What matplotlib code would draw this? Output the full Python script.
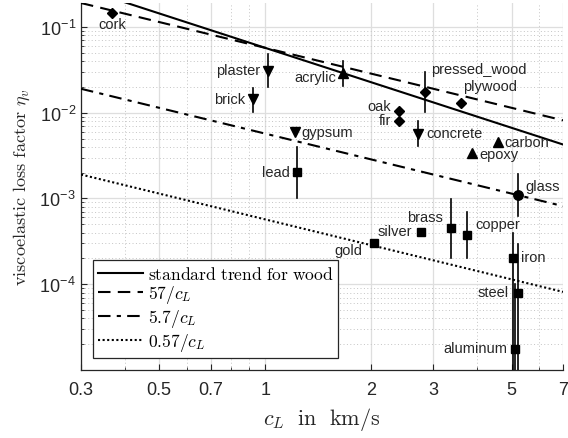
import numpy as np
import matplotlib
matplotlib.use("Agg")
import matplotlib.pyplot as plt
from matplotlib.ticker import FixedLocator, NullFormatter

plt.rcParams['font.family'] = ['Liberation Sans', 'DejaVu Sans']
plt.rcParams['mathtext.fontset'] = 'cm'

# ---------------- data ----------------
materials = ["cork", "plaster", "brick", "gypsum", "lead", "acrylic", "pressed_wood",
             "plywood", "oak", "fir", "concrete", "carbon", "epoxy", "glass", "brass",
             "copper", "silver", "gold", "iron", "steel", "aluminum"]
c_L = [0.367, 1.02, 0.924, 1.217, 1.233, 1.665, 2.85,
       3.60, 2.40, 2.40, 2.72, 4.59, 3.87, 5.20, 3.36,
       3.75, 2.77, 2.04, 5.06, 5.20, 5.13]
eta = [0.146, 0.0307, 0.01445, 0.00597, 0.00204, 0.0291, 0.01746,
       0.0130, 0.01047, 0.00801, 0.00565, 0.00456, 0.0034, 0.0011, 0.000453,
       0.000375, 0.000406, 0.000303, 0.000202, 7.9e-5, 1.76e-5]
eta_low = [None, 0.0200, 0.0102, None, 0.00101, 0.0205, 0.0102,
           None, None, None, 0.00409, None, None, 0.000625, 0.000202,
           0.000202, None, None, 5e-6, 5e-6, 5e-6]
eta_high = [None, 0.0484, 0.0195, None, 0.00399, 0.0402, 0.0299,
            None, None, None, 0.0080, None, None, 0.00193, 0.000986,
            0.000697, None, None, 0.000396, 0.000294, 0.0001]
markers = ["D", "v", "v", "v", "s", "^", "D",
           "D", "D", "D", "v", "^", "^", "o", "s",
           "s", "s", "s", "s", "s", "s"]
# label offsets in pixels (dx, dy) and horizontal alignment
label_dx = [0, -8, -8, 6, -7, -7, 6, 2, -8, -8, 8, 6, 7, 8, -8, 8, -9, -12, 8, -9, -8]
label_dy = [11, -1, 0, 0, 0, 4, -23, -17, -5, -1, -1, 0, 1, -9, -11, -11, -1, 7, -1, -1, -1]
label_ha = ["center", "right", "right", "left", "right", "right", "left", "left", "right", "right",
            "left", "left", "left", "left", "right", "left", "right", "right", "left", "right", "right"]

# reference lines
trend_coef, trend_exp = 0.057, -4.0 / 3.0
ref_coefs = [57, 5.7, 0.57]          # divided by c_L in m/s
ref_labels = [r"$57/c_L$", r"$5.7/c_L$", r"$0.57/c_L$"]
ref_styles = [(0, (6, 3.5)), (0, (6, 3, 2, 3)), (0, (1, 1.2))]

xticks = [0.3, 0.5, 0.7, 1, 2, 3, 5, 7]
xticklabels = ["0.3", "0.5", "0.7", "1", "2", "3", "5", "7"]
xminor = [0.4, 0.6, 0.8, 0.9, 4, 6]
yticks = [1e-4, 1e-3, 1e-2, 1e-1]
yticklabels = [r"10$^{\mathregular{-4}}$", r"10$^{\mathregular{-3}}$",
               r"10$^{\mathregular{-2}}$", r"10$^{\mathregular{-1}}$"]

# ---------------- figure ----------------
W, H = 568, 439
fig = plt.figure(figsize=(W / 100, H / 100), dpi=100)
ax = fig.add_axes([81 / W, 1 - 371 / H, (563 - 81) / W, (371 - 4) / H])
ax.set_xscale("log")
ax.set_yscale("log")
ax.set_xlim(0.3, 7)
ax.set_ylim(1e-5, 0.19)

dark = "#262626"
xx = np.logspace(np.log10(0.3), np.log10(7), 200)
ax.plot(xx, trend_coef * xx ** trend_exp, color="black", lw=1.5, label="standard trend for wood", zorder=3)
for coef, lab, ls in zip(ref_coefs, ref_labels, ref_styles):
    ax.plot(xx, coef / (xx * 1000), color="black", lw=1.5, ls=ls, label=lab, zorder=3)

msize = {"D": 5.2, "s": 5.2, "v": 7, "^": 7, "o": 6.8}
for i, name in enumerate(materials):
    if eta_low[i] is not None:
        ax.plot([c_L[i], c_L[i]], [eta_low[i], eta_high[i]], color="black", lw=1.2, zorder=4)
    ax.plot(c_L[i], eta[i], marker=markers[i], color="black", ms=msize[markers[i]],
            ls="none", zorder=5)
    ax.annotate(name, (c_L[i], eta[i]), xytext=(label_dx[i] * 0.72, -label_dy[i] * 0.72),
                textcoords="offset points", ha=label_ha[i], va="center", fontsize=10.5,
                color=dark, zorder=6)

ax.xaxis.set_major_locator(FixedLocator(xticks))
ax.set_xticklabels(xticklabels)
ax.xaxis.set_minor_locator(FixedLocator(xminor))
ax.xaxis.set_minor_formatter(NullFormatter())
ax.yaxis.set_major_locator(FixedLocator(yticks))
ax.set_yticklabels(yticklabels)
ymin = [m * 10.0 ** k for k in range(-5, 0) for m in range(2, 10)]
ax.yaxis.set_minor_locator(FixedLocator(ymin))
ax.yaxis.set_minor_formatter(NullFormatter())

ax.grid(True, which="major", color="#dedede", lw=0.9, ls="-", zorder=0)
ax.grid(True, which="minor", color="#c4c4c4", lw=0.7, ls=(0, (1, 2.5)), zorder=0)
ax.set_axisbelow(True)

for s in ["top", "right"]:
    ax.spines[s].set_visible(False)
for s in ["left", "bottom"]:
    ax.spines[s].set_color(dark)
    ax.spines[s].set_linewidth(0.9)
ax.tick_params(which="both", direction="in", colors=dark, labelsize=13)
ax.tick_params(which="major", length=4)
ax.tick_params(which="minor", length=2.2)
ax.tick_params(axis="x", which="major", pad=8)

ax.set_xlabel(r"$c_L\ \ \mathrm{in\ \ km/s}$", fontsize=16, color=dark, labelpad=5)
ax.set_ylabel(r"$\mathrm{viscoelastic\ loss\ factor}\ \eta_v$", fontsize=13.2, color=dark, labelpad=5)

handles, labels = ax.get_legend_handles_labels()
labels[0] = r"$\mathrm{standard\ trend\ for\ wood}$"
leg = ax.legend(handles, labels, loc="lower left", bbox_to_anchor=(0.025, 0.033),
                borderaxespad=0, fontsize=12.6, handlelength=2.6, handletextpad=0.25,
                labelspacing=0.1, borderpad=0.28, fancybox=False, framealpha=1)
leg.get_frame().set_edgecolor(dark)
leg.get_frame().set_linewidth(0.9)

fig.savefig("out.png", dpi=100)
